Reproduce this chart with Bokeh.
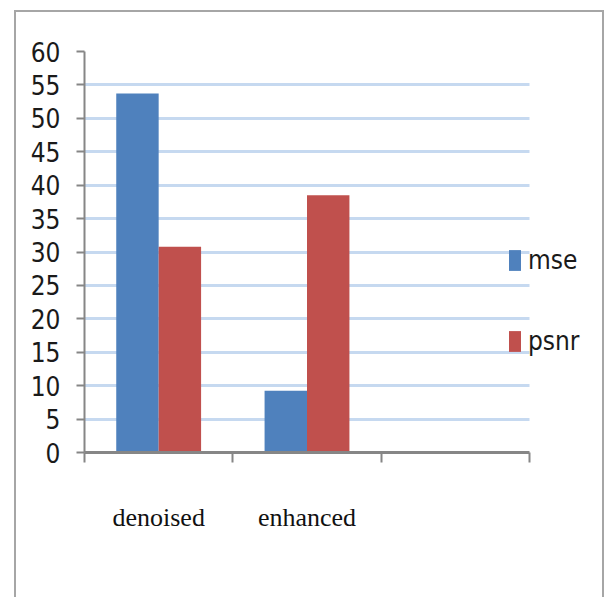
from bokeh.plotting import figure
from bokeh.models import FixedTicker, Range1d, Legend, LegendItem
from bokeh.embed import file_html
from bokeh.resources import INLINE

categories = ["denoised", "enhanced", ""]
mse = [53.7, 9.25]
psnr = [30.8, 38.5]
y_ticks = list(range(0, 61, 5))

BLUE = "#4F81BD"
RED = "#C0504D"
NARROW = "'Liberation Sans Narrow', 'DejaVu Sans Condensed', sans-serif"

n = len(categories)
x_end = n * 516 / 445  # extra room on the right for the legend

p = figure(width=590, height=587, output_backend="svg", toolbar_location=None,
           x_range=Range1d(0, x_end), y_range=Range1d(0, 60),
           min_border_left=70, min_border_top=41, min_border_right=4, min_border_bottom=145)
p.margin = (10, 0, 0, 14)
p.border_fill_alpha = 0
p.background_fill_color = None
p.outline_line_color = None
p.styles = {"box-shadow": "inset 2px 2px 0 0 #a6a6a6, inset -2px 0 0 0 #a6a6a6"}

bw = 0.286
xs_mse = [i + 0.5 - bw / 2 for i in range(len(mse))]
xs_psnr = [i + 0.5 + bw / 2 for i in range(len(psnr))]
r1 = p.vbar(x=xs_mse, top=mse, width=bw, fill_color=BLUE, line_color=None)
r2 = p.vbar(x=xs_psnr, top=psnr, width=bw, fill_color=RED, line_color=None)

# x axis: labels at category centres, ticks at boundaries (minor ticks)
xa = p.xaxis[0]
xa.bounds = (0, n)
xa.ticker = FixedTicker(ticks=[i + 0.5 for i in range(n)],
                        minor_ticks=list(range(n + 1)))
xa.major_label_overrides = {i + 0.5: c for i, c in enumerate(categories)}
xa.major_tick_line_color = None
xa.minor_tick_line_color = "#868686"
xa.minor_tick_line_width = 2
xa.minor_tick_out = 10
xa.minor_tick_in = 0
xa.axis_line_color = "#868686"
xa.axis_line_width = 3
xa.major_label_standoff = 40
xa.major_label_text_font = "Liberation Serif"
xa.major_label_text_font_size = "26px"
xa.major_label_text_color = "#111111"

ya = p.yaxis[0]
ya.ticker = FixedTicker(ticks=y_ticks)
ya.major_tick_out = 8
ya.major_tick_in = 0
ya.major_tick_line_color = "#868686"
ya.major_tick_line_width = 2
ya.minor_tick_line_color = None
ya.axis_line_color = "#868686"
ya.axis_line_width = 2
ya.major_label_standoff = 16
ya.major_label_text_font = NARROW
ya.major_label_text_font_size = "26px"
ya.major_label_text_color = "#1a1a1a"

p.xgrid.grid_line_color = None
p.ygrid.ticker = FixedTicker(ticks=y_ticks)
p.ygrid.cross_bounds = (0, n)
p.ygrid.grid_line_color = "#C6D9F0"
p.ygrid.grid_line_width = 3

legend = Legend(items=[LegendItem(label="mse", renderers=[r1]),
                       LegendItem(label="psnr", renderers=[r2])],
                location=(423, 96), orientation="vertical",
                glyph_width=15, glyph_height=26, label_height=26,
                spacing=51, padding=0, margin=0, label_standoff=6,
                background_fill_alpha=0, border_line_alpha=0,
                label_text_font=NARROW, label_text_font_size="26px",
                label_text_color="#1a1a1a")
p.add_layout(legend, "center")

open("out.html", "w").write(file_html(p, INLINE))
